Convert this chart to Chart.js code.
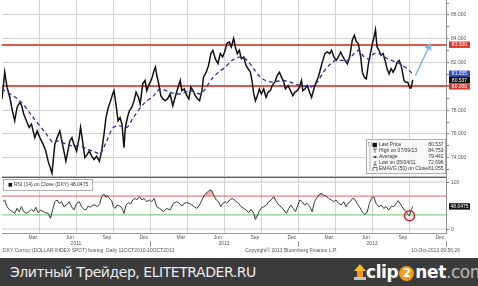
<!DOCTYPE html>
<html>
<head>
<meta charset="utf-8">
<script src="https://cdn.jsdelivr.net/npm/chart.js@4.4.0/dist/chart.umd.min.js"></script>
<style>
  html, body { margin: 0; padding: 0; background: #fff; }
  #wrap { position: relative; width: 478px; height: 286px; overflow: hidden; }
  #chart { position: absolute; left: 0; top: 0; }
  #banner { position: absolute; left: 0; top: 258px; width: 478px; height: 28px; background: #3b3b3b; font-family: "DejaVu Sans", sans-serif; }
  #site { position: absolute; left: 10px; top: 4px; font-size: 14px; line-height: 20px; color: #ececec; letter-spacing: -0.45px; white-space: nowrap; }
  #logo { position: absolute; left: 354px; top: 2px; height: 24px; white-space: nowrap; }
  #logo .icon { position: absolute; left: 0; top: 4px; width: 12px; height: 16px; }
  #logo .icon .head { position: absolute; left: 0; top: 0; width: 0; height: 0; border-left: 6px solid transparent; border-right: 6px solid transparent; border-bottom: 7px solid #f8b62a; }
  #logo .icon .stem { position: absolute; left: 3px; top: 7px; width: 6px; height: 6px; background: #f29a1f; }
  #logo .icon .base { position: absolute; left: 0; top: 13px; width: 12px; height: 3px; background: #c8c8c8; }
  #logo .word { position: absolute; left: 12px; top: 0; font-size: 17px; line-height: 24px; font-weight: bold; color: #fff; letter-spacing: -0.4px; }
  #logo .two { display: inline-block; width: 15px; height: 15px; border-radius: 50%; background: #f39a1e; color: #fff; font-size: 12px; line-height: 15px; text-align: center; vertical-align: 1px; margin: 0 1px; }
  #logo .com { color: #b9b9b9; font-weight: normal; }
</style>
</head>
<body>
<div id="wrap">
  <canvas id="chart" width="478" height="258"></canvas>
  <div id="banner">
    <div id="site">Элитный Трейдер, ELITETRADER.RU</div>
    <div id="logo"><div class="icon"><div class="head"></div><div class="stem"></div><div class="base"></div></div><div class="word">clip<span class="two">2</span>net<span class="com">.com</span></div></div>
  </div>
</div>
<script>
// months since 1 Jan 2011
const priceX = [
  0.00, 0.22, 0.41, 0.63, 0.84, 1.03, 1.22, 1.44, 1.60, 1.76,
  1.98, 2.20, 2.39, 2.66, 2.85, 3.07, 3.34, 3.55, 3.74, 4.05,
  4.15, 4.28, 4.47, 4.69, 4.85, 5.02, 5.18, 5.34, 5.50, 5.67,
  5.83, 6.05, 6.26, 6.37, 6.53, 6.72, 6.91, 7.08, 7.27, 7.46,
  7.67, 7.89, 8.08, 8.27, 8.43, 8.62, 8.81, 8.97, 9.08, 9.24,
  9.41, 9.57, 9.73, 9.89, 10.00, 10.17, 10.33, 10.52, 10.71, 10.87,
  11.06, 11.20, 11.41, 11.60, 11.74, 11.95, 12.14, 12.33, 12.44, 12.55,
  12.71, 12.88, 13.04, 13.23, 13.42, 13.63, 13.85, 14.04, 14.23, 14.45,
  14.58, 14.77, 14.99, 15.15, 15.31, 15.48, 15.67, 15.86, 16.02, 16.21,
  16.34, 16.56, 16.75, 16.94, 17.10, 17.29, 17.51, 17.70, 17.89, 18.05,
  18.24, 18.43, 18.59, 18.78, 18.92, 19.08, 19.24, 19.41, 19.60, 19.79,
  19.95, 20.14, 20.27, 20.41, 20.55, 20.71, 20.87, 21.03, 21.22, 21.41,
  21.57, 21.76, 21.90, 22.12, 22.31, 22.50, 22.66, 22.85, 22.98, 23.20,
  23.39, 23.58, 23.74, 23.93, 24.12, 24.28, 24.39, 24.56, 24.75, 24.94,
  25.10, 25.29, 25.42, 25.64, 25.83, 25.97, 26.18, 26.37, 26.56, 26.72,
  26.91, 27.10, 27.27, 27.46, 27.65, 27.81, 28.00, 28.19, 28.40, 28.57,
  28.73, 28.89, 29.08, 29.22, 29.38, 29.54, 29.71, 29.87, 30.03, 30.17,
  30.28, 30.41, 30.57, 30.73, 30.90, 31.06, 31.22, 31.39, 31.55, 31.71,
  31.87, 32.04, 32.20, 32.36, 32.47, 32.60, 32.74, 32.90, 33.07, 33.17,
  33.30
];
const priceY = [
  78.94, 81.20, 79.93, 79.08, 77.95, 77.10, 78.23, 78.65, 78.37, 77.67,
  77.10, 76.54, 76.82, 75.69, 76.25, 75.69, 75.12, 74.56, 73.71, 72.70,
  73.71, 75.12, 75.69, 76.25, 75.41, 74.56, 73.71, 74.56, 75.41, 75.69,
  75.12, 74.56, 75.69, 76.54, 75.41, 74.01, 74.28, 74.56, 74.13, 73.85,
  74.13, 73.71, 74.56, 75.97, 77.38, 78.23, 78.80, 79.36, 79.64, 78.51,
  77.10, 77.38, 76.82, 74.84, 76.54, 77.38, 77.95, 78.23, 78.80, 79.50,
  79.08, 78.51, 80.21, 80.49, 79.64, 80.21, 80.63, 81.34, 81.62, 80.91,
  80.21, 79.22, 78.94, 78.80, 78.94, 79.36, 78.37, 79.08, 79.78, 80.49,
  79.64, 79.78, 79.22, 78.94, 79.93, 79.64, 79.22, 78.94, 78.80, 79.64,
  80.77, 81.20, 81.76, 82.75, 83.03, 82.33, 81.90, 82.75, 82.47, 82.89,
  83.60, 83.74, 83.31, 84.02, 83.31, 82.75, 83.03, 82.32, 82.47, 81.76,
  81.48, 81.19, 80.49, 79.36, 78.79, 79.22, 79.78, 79.36, 79.78, 79.08,
  79.50, 79.64, 80.06, 80.35, 80.91, 81.19, 80.77, 80.35, 79.78, 80.06,
  79.64, 79.22, 79.50, 79.64, 79.92, 80.49, 79.64, 79.78, 80.06, 79.50,
  79.08, 79.78, 80.21, 80.77, 81.48, 82.04, 82.75, 82.89, 82.75, 83.03,
  82.47, 82.18, 82.47, 82.89, 82.47, 82.18, 81.90, 82.47, 83.88, 84.30,
  83.74, 83.60, 82.47, 81.19, 80.77, 80.63, 81.90, 82.75, 83.60, 84.16,
  84.75, 83.31, 83.03, 82.61, 82.75, 82.18, 81.48, 81.05, 81.48, 81.19,
  81.48, 82.04, 82.18, 81.76, 81.19, 80.49, 80.35, 80.35, 79.87, 79.87,
  80.54
];

const emaX = [
  0.00, 1.44, 2.52, 3.61, 4.15, 4.56, 5.23, 5.78, 6.32, 6.99,
  7.67, 7.94, 8.49, 9.03, 9.57, 10.11, 10.65, 11.47, 12.28, 12.82,
  13.63, 14.45, 15.26, 16.07, 16.48, 17.02, 17.56, 18.11, 18.65, 19.19,
  19.60, 20.00, 20.41, 20.82, 21.36, 21.90, 22.31, 22.85, 23.39, 23.93,
  24.61, 25.15, 25.56, 25.97, 26.51, 27.05, 27.59, 28.00, 28.54, 28.95,
  29.35, 29.76, 30.17, 30.57, 31.25, 31.93, 32.47, 33.01, 33.30
];
const emaY = [
  79.78, 78.80, 77.38, 75.97, 75.26, 75.41, 75.12, 74.98, 74.98, 74.70,
  74.42, 74.28, 75.41, 76.54, 76.68, 76.54, 77.38, 78.51, 79.20, 79.78,
  79.50, 79.36, 79.64, 79.36, 79.78, 80.63, 81.19, 81.62, 82.18, 82.45,
  82.40, 82.04, 81.48, 80.91, 80.49, 80.35, 80.43, 80.49, 80.35, 80.15,
  79.98, 79.98, 80.35, 81.05, 81.76, 82.18, 82.18, 82.18, 82.75, 83.03,
  82.47, 82.32, 82.75, 82.75, 82.32, 82.04, 81.76, 81.34, 81.06
];

const rsiX = [
  0.08, 0.22, 0.41, 0.63, 0.84, 1.03, 1.22, 1.39, 1.58, 1.76,
  1.98, 2.20, 2.39, 2.58, 2.74, 2.93, 3.12, 3.34, 3.55, 3.74,
  3.93, 4.10, 4.28, 4.47, 4.64, 4.83, 5.02, 5.23, 5.45, 5.64,
  5.83, 6.05, 6.26, 6.45, 6.64, 6.80, 6.99, 7.18, 7.35, 7.54,
  7.73, 7.94, 8.08, 8.27, 8.43, 8.54, 8.70, 8.89, 9.03, 9.16,
  9.35, 9.52, 9.71, 9.89, 10.06, 10.25, 10.44, 10.60, 10.79, 10.92,
  11.14, 11.33, 11.52, 11.74, 11.95, 12.14, 12.33, 12.55, 12.77, 13.09,
  13.36, 13.63, 13.90, 14.17, 14.39, 14.58, 14.77, 14.99, 15.20, 15.39,
  15.58, 15.80, 16.02, 16.21, 16.40, 16.61, 16.83, 17.02, 17.16, 17.37,
  17.56, 17.75, 17.91, 18.10, 18.24, 18.46, 18.65, 18.84, 19.00, 19.19,
  19.38, 19.60, 19.81, 20.00, 20.19, 20.41, 20.54, 20.68, 20.84, 21.00,
  21.22, 21.44, 21.63, 21.82, 22.03, 22.25, 22.44, 22.63, 22.85, 23.06,
  23.25, 23.44, 23.61, 23.80, 23.99, 24.15, 24.34, 24.53, 24.74, 24.96,
  25.15, 25.34, 25.50, 25.69, 25.89, 26.08, 26.27, 26.48, 26.70, 26.89,
  27.08, 27.30, 27.51, 27.70, 27.89, 28.05, 28.24, 28.43, 28.60, 28.79,
  28.98, 29.19, 29.41, 29.60, 29.79, 29.95, 30.14, 30.33, 30.55, 30.76,
  30.95, 31.14, 31.36, 31.58, 31.77, 31.96, 32.12, 32.28, 32.44, 32.61,
  32.77, 32.93, 33.04, 33.20, 33.31
];
const rsiY = [
  58.1, 61.7, 47.5, 40.4, 36.9, 33.3, 43.9, 36.9, 47.5, 36.9,
  33.3, 36.9, 41.8, 36.9, 46.1, 34.7, 40.4, 36.9, 34.7, 33.3,
  22.7, 40.4, 58.1, 61.7, 54.6, 58.1, 47.5, 51.0, 58.1, 47.5,
  40.4, 54.6, 58.1, 47.5, 41.8, 40.4, 48.9, 46.1, 51.0, 51.0,
  47.5, 54.6, 68.8, 74.4, 67.3, 72.3, 65.2, 60.3, 47.5, 43.9,
  51.0, 48.9, 46.1, 33.3, 51.0, 56.0, 53.2, 61.7, 65.2, 61.7,
  68.8, 61.7, 65.2, 58.1, 61.7, 58.1, 65.2, 47.5, 43.9, 36.9,
  43.9, 40.4, 54.6, 58.1, 54.6, 48.9, 54.6, 56.0, 54.6, 51.0,
  47.5, 43.9, 51.0, 61.7, 72.3, 77.3, 82.9, 81.5, 72.3, 61.7,
  58.1, 47.5, 54.6, 58.1, 54.6, 61.7, 65.2, 61.7, 58.1, 54.6,
  47.5, 43.9, 40.4, 34.7, 41.8, 33.3, 20.5, 26.2, 36.9, 43.9,
  47.5, 51.0, 58.1, 61.7, 68.8, 58.1, 51.0, 47.5, 40.4, 33.3,
  43.9, 51.0, 43.9, 36.9, 51.0, 61.7, 58.1, 51.0, 54.6, 47.5,
  36.9, 58.1, 65.2, 72.3, 75.9, 72.3, 70.2, 65.2, 61.7, 58.1,
  61.7, 54.6, 51.0, 58.1, 47.5, 54.6, 58.1, 65.2, 63.1, 54.6,
  47.5, 36.9, 31.2, 34.7, 54.6, 65.2, 68.8, 54.6, 47.5, 51.0,
  43.9, 47.5, 40.4, 48.9, 47.5, 54.6, 60.3, 54.6, 47.5, 40.4,
  36.9, 29.8, 28.5, 41.8, 48.05
];

// hand-drawn projection arrow and the circled RSI dip
const arrowX = [33.53, 34.61];
const arrowY = [80.92, 83.31];
const circleX = [33.04];
const circleY = [28.3];

const levels = [83.5, 80.0];
const rsiGuides = [100, 70, 30, 0];
const rsiGuideColors = ['#c8c8c8', 'rgba(214,86,76,0.9)', 'rgba(96,184,96,0.9)', '#c8c8c8'];
const lastPrice = 80.537;
const lastEma = 81.055;
const lastRsi = 48.0475;

const legendLabels = ['Last Price', 'High on 07/09/13', 'Average', 'Low on 05/04/11', 'EMAVG (50) on Close'];
const legendValues = [80.537, 84.753, 79.442, 72.696, 81.055];

const quarterLines = [3, 6, 9, 12, 15, 18, 21, 24, 27, 30, 33];
const monthNames = ['Mar', 'Jun', 'Sep', 'Dec'];
const monthPos = [2.5, 5.5, 8.5, 11.5, 14.5, 17.5, 20.5, 23.5, 26.5, 29.5, 32.5, 35.5];
const yearNames = ['2011', '2012', '2013'];
const yearPos = [6, 18, 30];
const yearEdges = [12, 24, 36];
const mainTicks = [73, 74, 75, 76, 77, 78, 79, 80, 81, 82, 83, 83.5, 84, 85, 86, 87];
const panelSplit = 72.38;

const footLeft = 'DXY Curncy (DOLLAR INDEX SPOT) boeing  Daily 11OCT2010-10OCT2013';
const footMid = 'Copyright\u00a9 2013 Bloomberg Finance L.P.';
const footRight = '10-Oct-2013 09:56:26';

const pts = (xs, ys) => xs.map((x, i) => ({ x, y: ys[i] }));
const TINY = '"Liberation Sans", Arial, sans-serif';
const NONE = 'rgba(0,0,0,0)';

const annotate = {
  id: 'annotate',
  afterDraw(chart) {
    const { ctx } = chart;
    const x = chart.scales.x;
    const y = chart.scales.y;
    const rs = chart.scales.yRsi;
    const area = chart.chartArea;
    ctx.save();
    ctx.font = '5px ' + TINY;
    ctx.textBaseline = 'middle';

    // panel separator
    const sy = Math.round(y.getPixelForValue(panelSplit)) + 0.5;
    ctx.strokeStyle = '#bdbdbd';
    ctx.lineWidth = 1;
    ctx.beginPath();
    ctx.moveTo(area.left, sy - 1);
    ctx.lineTo(area.right, sy - 1);
    ctx.stroke();
    ctx.strokeStyle = '#5e5e5e';
    ctx.beginPath();
    ctx.moveTo(area.left, sy);
    ctx.lineTo(area.right, sy);
    ctx.stroke();

    // RSI axis labels
    ctx.fillStyle = '#555';
    ctx.strokeStyle = '#777';
    ctx.textAlign = 'left';
    [rsiGuides[0], rsiGuides[3]].forEach(v => {
      const py = Math.round(rs.getPixelForValue(v)) + 0.5;
      ctx.beginPath();
      ctx.moveTo(area.right, py);
      ctx.lineTo(area.right + 3, py);
      ctx.stroke();
      ctx.fillText(String(v), area.right + 5, py);
    });

    // bottom axis labels
    ctx.textAlign = 'center';
    monthPos.forEach((m, i) => ctx.fillText(monthNames[i % 4], x.getPixelForValue(m), 238));
    yearPos.forEach((m, i) => ctx.fillText(yearNames[i], x.getPixelForValue(m), 244));
    ctx.strokeStyle = '#888';
    ctx.lineWidth = 0.8;
    yearEdges.forEach(m => {
      const px = Math.round(x.getPixelForValue(m)) + 0.5;
      ctx.beginPath();
      ctx.moveTo(px, 241);
      ctx.lineTo(px, 247);
      ctx.stroke();
    });
    ctx.textAlign = 'left';
    ctx.fillText(footLeft, 3, 251);
    ctx.textAlign = 'center';
    ctx.fillText(footMid, 291, 251);
    ctx.textAlign = 'right';
    ctx.fillText(footRight, 460, 251);

    // value tags on the right axis
    const tag = (scale, v, text, bg) => {
      const py = scale.getPixelForValue(v);
      ctx.fillStyle = bg;
      ctx.fillRect(449, py - 3.2, 21, 6.4);
      ctx.fillStyle = '#fff';
      ctx.textAlign = 'center';
      ctx.fillText(text, 459.5, py + 0.3);
    };
    tag(y, levels[0], levels[0].toFixed(3), '#d93a2f');
    tag(y, lastEma, lastEma.toFixed(3), '#3050cc');
    tag(y, lastPrice, lastPrice.toFixed(3), '#111');
    tag(y, levels[1], levels[1].toFixed(3), '#d93a2f');
    tag(rs, lastRsi, lastRsi.toFixed(4), '#111');

    // price legend
    ctx.fillStyle = 'rgba(248,248,248,0.95)';
    ctx.strokeStyle = '#b0b0b0';
    ctx.lineWidth = 1;
    ctx.fillRect(366, 139, 80, 35);
    ctx.strokeRect(366.5, 139.5, 79, 34);
    ctx.strokeStyle = '#999';
    ctx.lineWidth = 0.6;
    ctx.strokeRect(368.5, 142.5, 3, 3);
    ctx.beginPath();
    ctx.moveTo(370, 146);
    ctx.lineTo(370, 171);
    ctx.stroke();
    legendLabels.forEach((lab, i) => {
      const ry = 145 + i * 6;
      ctx.strokeStyle = '#333';
      ctx.fillStyle = '#111';
      ctx.lineWidth = 0.7;
      ctx.beginPath();
      if (i === 0) {
        ctx.fillRect(372.5, ry - 2.2, 4.4, 4.4);
      } else if (i === 1) {
        ctx.moveTo(373, ry - 2); ctx.lineTo(377, ry - 2);
        ctx.moveTo(375, ry - 2); ctx.lineTo(375, ry + 2);
      } else if (i === 2) {
        ctx.moveTo(372.5, ry); ctx.lineTo(377.5, ry);
        ctx.fillRect(374.3, ry - 0.8, 1.6, 1.6);
      } else if (i === 3) {
        ctx.moveTo(375, ry - 2); ctx.lineTo(375, ry + 2);
        ctx.moveTo(373, ry + 2); ctx.lineTo(377, ry + 2);
      } else {
        ctx.moveTo(373, ry + 2); ctx.lineTo(373, ry - 1.5); ctx.lineTo(377, ry - 1.5); ctx.lineTo(377, ry + 2);
      }
      ctx.stroke();
      ctx.fillStyle = '#333';
      ctx.textAlign = 'left';
      ctx.fillText(lab, 379, ry);
      ctx.textAlign = 'right';
      ctx.fillText(legendValues[i].toFixed(3), 443.5, ry);
    });

    // RSI legend
    ctx.fillStyle = '#fff';
    ctx.strokeStyle = '#b0b0b0';
    ctx.lineWidth = 1;
    ctx.fillRect(3.5, 179.5, 89, 11);
    ctx.strokeRect(3.5, 179.5, 89, 11);
    ctx.fillStyle = '#111';
    ctx.fillRect(8.5, 183, 3.6, 3.6);
    ctx.fillStyle = '#333';
    ctx.textAlign = 'left';
    ctx.fillText('RSI (14) on Close (DXY) ' + lastRsi.toFixed(4), 14, 185);
    ctx.restore();
  }
};

const guideSets = rsiGuides.map((v, i) => ({
  data: [{ x: 0, y: v }, { x: 36, y: v }], yAxisID: 'yRsi',
  borderColor: rsiGuideColors[i], borderWidth: 1, pointRadius: 0, order: 9
}));

new Chart(document.getElementById('chart').getContext('2d'), {
  type: 'line',
  data: {
    datasets: [
      {
        data: pts(priceX, priceY), yAxisID: 'y',
        borderColor: '#111', borderWidth: 1.5, pointRadius: 0, tension: 0, order: 3
      },
      {
        data: pts(emaX, emaY), yAxisID: 'y',
        borderColor: '#2a2f9c', borderWidth: 1.3, borderDash: [4, 3], pointRadius: 0, tension: 0.3, order: 1
      },
      {
        data: pts(arrowX, arrowY), yAxisID: 'y',
        borderColor: '#7fb2e3', borderWidth: 1.4, pointStyle: 'triangle', pointRadius: [0, 3.2],
        pointRotation: 25, pointBackgroundColor: '#7fb2e3', pointBorderColor: '#7fb2e3', order: 1
      },
      {
        data: pts(rsiX, rsiY), yAxisID: 'yRsi',
        borderColor: '#3a3a3a', borderWidth: 1, pointRadius: 0, tension: 0, order: 2,
        fill: { target: { value: 70 }, above: 'rgba(238,150,150,0.75)', below: NONE }
      },
      {
        data: pts(rsiX, rsiY), yAxisID: 'yRsi',
        borderColor: NONE, borderWidth: 0, pointRadius: 0, tension: 0, order: 4,
        fill: { target: { value: 30 }, above: NONE, below: 'rgba(140,210,140,0.8)' }
      },
      {
        data: pts(circleX, circleY), yAxisID: 'yRsi', showLine: false,
        pointRadius: 5, pointBorderWidth: 1.5, pointBorderColor: '#e02424', pointBackgroundColor: NONE, order: 0
      },
      ...guideSets
    ]
  },
  options: {
    responsive: false,
    animation: false,
    events: [],
    layout: { autoPadding: false, padding: { left: 2, top: 0, right: 0, bottom: 0 } },
    plugins: { legend: { display: false }, tooltip: { enabled: false } },
    scales: {
      x: {
        type: 'linear', min: 0, max: 36,
        afterBuildTicks: s => { s.ticks = quarterLines.map(v => ({ value: v })); },
        grid: { color: '#d3d3d3', lineWidth: 1, drawTicks: false },
        ticks: { display: false, autoSkip: false },
        border: { display: true, color: '#9a9a9a' },
        afterFit: s => { s.height = 25; }
      },
      yRsi: {
        type: 'linear', axis: 'y', position: 'right', weight: 0, min: -8.51, max: 487.2,
        grid: { display: false },
        ticks: { display: false },
        border: { display: false },
        afterFit: s => { s.width = 0; s.paddingTop = 0; s.paddingBottom = 0; }
      },
      y: {
        type: 'linear', position: 'right', weight: 1, min: 67.67, max: 87.26,
        afterBuildTicks: s => { s.ticks = mainTicks.map(v => ({ value: v })); },
        grid: {
          color: c => {
            const v = c.tick ? c.tick.value : null;
            if (levels.includes(v)) return 'rgba(218,70,58,0.9)';
            if (v !== null && v % 2 === 0) return '#d3d3d3';
            return NONE;
          },
          lineWidth: c => (c.tick && levels.includes(c.tick.value)) ? 2 : 1,
          tickColor: c => (c.tick && Number.isInteger(c.tick.value)) ? '#888' : NONE,
          tickLength: 3
        },
        ticks: {
          autoSkip: false, padding: 2, color: '#555',
          font: { size: 5, family: TINY },
          callback: v => (Number.isInteger(v) && v % 2 === 0 && v !== 80) ? v.toFixed(3) : ''
        },
        border: { display: true, color: '#8a8a8a' },
        afterFit: s => { s.width = 32; s.paddingTop = 0; s.paddingBottom = 0; }
      }
    }
  },
  plugins: [annotate]
});
</script>
</body>
</html>
